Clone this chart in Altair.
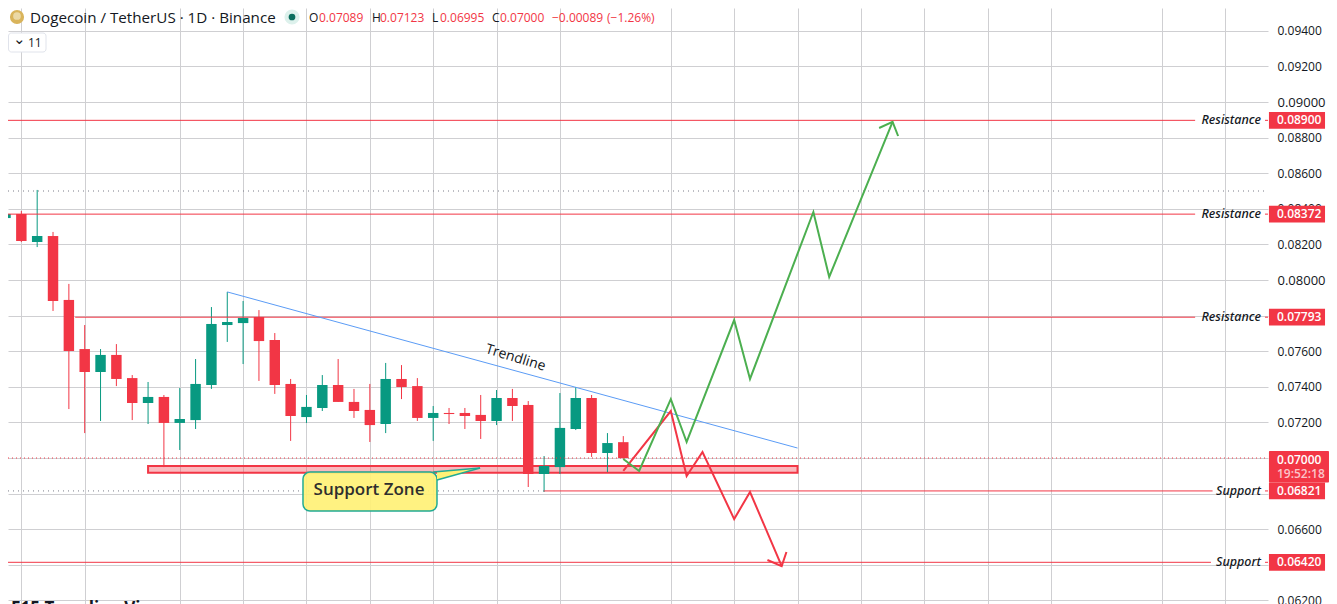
import altair as alt
import pandas as pd

# ---- candles (bar index, open, high, low, close), prices in thousandths
opens  = [83.48,83.71,82.13,82.47,78.88,76.12,74.83,75.79,74.49,73.09,73.43,71.97,72.13,74.10,77.47,77.58,77.92,76.63,74.16,72.30,
          72.81,74.10,73.15,72.70,71.91,74.44,74.04,72.25,72.53,72.53,72.42,72.08,73.37,72.98,69.10,69.49,71.63,73.37,70.28,70.89]
highs  = [84.33,83.88,85.06,82.70,79.78,77.47,76.12,76.40,74.66,74.27,73.54,73.93,75.56,78.48,79.33,78.82,78.31,77.02,74.44,73.54,
          74.66,75.56,73.88,74.16,75.34,75.22,74.49,72.92,72.81,72.81,73.54,73.82,73.88,73.20,70.11,73.65,73.99,73.54,71.40,71.23]
lows   = [82.58,82.13,81.85,78.26,72.75,71.40,72.08,74.04,72.13,71.91,69.49,70.45,71.63,73.88,76.52,75.28,74.33,73.60,70.96,71.97,
          72.64,73.15,72.25,70.90,71.40,73.31,72.08,70.96,71.91,71.63,71.07,71.85,72.08,68.37,68.09,69.10,71.57,70.06,69.21,69.95]
closes = [83.71,82.19,82.47,78.82,76.01,74.83,75.79,74.44,73.09,73.43,71.97,72.19,74.16,77.53,77.64,77.87,76.57,74.10,72.36,72.87,
          74.10,73.15,72.64,71.85,74.44,73.99,72.25,72.53,72.47,72.36,72.08,73.37,72.92,69.10,69.55,71.69,73.37,70.28,70.84,70.00]

price_ticks = [0.062,0.064,0.066,0.068,0.070,0.072,0.074,0.076,0.078,0.080,0.082,0.084,0.086,0.088,0.090,0.092,0.094]
time_grid = [1,5,11,15,19,23,27,31,35,42,46,50,54,58,62,66,73,77]

level_prices = [0.08897,0.08370,0.07791,0.06815,0.06414]
level_labels = ["Resistance","Resistance","Resistance","Support","Support"]
level_starts = [0.158,0.158,4.4,34.0,0.158]
level_ends   = [75.1,75.1,75.1,76.2,76.1]
level_tags   = ["0.08900","0.08372","0.07793","0.06821","0.06420"]

trend_x = [14,50]
trend_p = [0.07933,0.07056]

green_x = [39,40,42,43,46,47,51,52,56]
green_p = [0.06994,0.06927,0.07331,0.07090,0.07775,0.07444,0.08382,0.08017,0.08888]
green_head_x = [55.15,56,56.35]
green_head_p = [0.08854,0.08888,0.08809]

red_x = [39,42,43,44,46,47,49]
red_p = [0.06927,0.07264,0.06899,0.07034,0.06657,0.06809,0.06393]
red_head_x = [48.1,49,49.3]
red_head_p = [0.06427,0.06393,0.06472]

zone_x, zone_x2 = 9, 50
zone_p, zone_p2 = 0.06955, 0.06917

RED = "#F23645"
GREEN = "#089981"
FONT = "Open Sans"
DOM_X = [0.158, 79.70]
DOM_Y = [0.0617978, 0.0952809]

x_scale = alt.Scale(domain=DOM_X, nice=False, zero=False)
y_scale = alt.Scale(domain=DOM_Y, nice=False, zero=False)
x_axis = alt.Axis(values=time_grid, labels=False, ticks=False, domain=False, grid=True,
                  gridColor="#cfcfd2", gridWidth=1, title=None)
big = "datum.value == 0.09 || datum.value == 0.08"
y_axis = alt.Axis(orient="right", values=price_ticks, format=".5f", title=None, ticks=False, domain=False,
                  grid=True, gridColor="#cfcfd2", gridWidth=1, labelPadding=9, labelColor="#131722",
                  labelFont=FONT,
                  labelFontSize=alt.condition(big, alt.value(13), alt.value(12)),
                  labelFontWeight=alt.condition(big, alt.value(500), alt.value(400)))

df = pd.DataFrame({"i": range(len(opens)),
                   "o": [v/1000 for v in opens], "h": [v/1000 for v in highs],
                   "l": [v/1000 for v in lows], "c": [v/1000 for v in closes]})
df["xa"] = df.i - 0.33
df["xb"] = df.i + 0.33
df["col"] = [GREEN if c >= o else RED for o, c in zip(df.o, df.c)]
colr = alt.Color("col:N", scale=None)

PX = alt.X("x:Q", scale=x_scale, axis=x_axis)
PY = alt.Y("y:Q", scale=y_scale, axis=y_axis)

wicks = alt.Chart(df).mark_rule(strokeWidth=1, clip=True).encode(
    x=alt.X("i:Q", scale=x_scale, axis=x_axis),
    y=alt.Y("l:Q", scale=y_scale, axis=y_axis), y2="h:Q", color=colr)
bodies = alt.Chart(df).mark_rect(clip=True).encode(
    x=alt.X("xa:Q", scale=x_scale, axis=x_axis), x2="xb:Q",
    y=alt.Y("o:Q", scale=y_scale, axis=y_axis), y2="c:Q", color=colr)

def hline(p, a, b, color, width=1, dash=None):
    kw = dict(color=color, strokeWidth=width)
    if dash:
        kw["strokeDash"] = dash
    return alt.Chart(pd.DataFrame({"x": [a], "x2": [b], "y": [p]})).mark_rule(**kw).encode(x=PX, x2="x2:Q", y=PY)

def path(xs, ps, color, width, **kw):
    d = pd.DataFrame({"x": xs, "y": ps, "k": range(len(xs))})
    return alt.Chart(d).mark_line(color=color, strokeWidth=width, **kw).encode(x=PX, y=PY, order="k:Q")

def label(text, px, py, **kw):
    kw.setdefault("font", FONT)
    kw.setdefault("align", "left")
    kw.setdefault("baseline", "middle")
    return alt.Chart(pd.DataFrame({"t": [text]})).mark_text(**kw).encode(
        x=alt.value(px-8), y=alt.value(py-8), text="t:N")

def box(x0, x1, p0, p1, **kw):
    d = pd.DataFrame({"x": [x0], "x2": [x1], "y": [p0], "y2": [p1]})
    return alt.Chart(d).mark_rect(**kw).encode(x=PX, x2="x2:Q", y=PY, y2="y2:Q")

# support zone sits under the candles
layers = [box(zone_x, zone_x2, zone_p, zone_p2, fill=RED, fillOpacity=0.35, stroke=RED, strokeWidth=2), wicks, bodies]

# dotted last/high/low markers
layers += [hline(0.0850, DOM_X[0], DOM_X[1], "#787b86", 1, [1,4]),
           hline(0.0700, DOM_X[0], DOM_X[1], RED, 1, [1,3]),
           hline(0.06815, DOM_X[0], 34, "#787b86", 1, [1,4])]

# levels
for p, lab, a, b, tag in zip(level_prices, level_labels, level_starts, level_ends, level_tags):
    layers.append(hline(p, a, b, RED))
    layers.append(hline(p, 79.51, DOM_X[1], RED))

# trendline
layers.append(path(trend_x, trend_p, "#5B9CF6", 1))

# scenario paths
layers += [path(red_x, red_p, RED, 2), path(red_head_x, red_head_p, RED, 2),
           path(green_x, green_p, "#4CAF50", 2), path(green_head_x, green_head_p, "#4CAF50", 2)]

# callout
tri = pd.DataFrame({"x": [27.24, 29.96], "y": [0.06921, 0.06944], "y2": [0.06876, 0.06944]})
layers.append(box(18.78, 27.24, 0.06921, 0.06702, fill="#FFF176", fillOpacity=0.92, stroke="#22AB94", strokeWidth=1.5, cornerRadius=7))
layers.append(alt.Chart(tri).mark_area(color="#FFF176").encode(x=PX, y=PY, y2="y2:Q"))
layers.append(path([27.0, 29.96], [0.06921, 0.06944], "#22AB94", 1.5))
layers.append(path([27.24, 29.96], [0.06876, 0.06944], "#22AB94", 1.5))
layers.append(label("Support Zone", 369, 490, fontSize=17, fontWeight=600, color="#2e2e2e", align="center"))
layers.append(label("Trendline", 515.5, 358, fontSize=14, fontWeight=500, color="#131722", align="center", angle=17))

# level captions and price tags
half = 0.00047
for p, lab, tag in zip(level_prices, level_labels, level_tags):
    py = 1704 - p*17800
    layers.append(label(lab, 1261, py, fontSize=12.5, fontStyle="italic", fontWeight=500, color="#131722", align="right", font="Noto Sans"))
    layers.append(box(79.76, 83.30, p-half, p+half, fill=RED))
    layers.append(label(tag, 1277, py, fontSize=12, fontWeight=600, color="#ffffff"))
layers.append(box(79.76, 83.55, 0.06862, 0.07040, fill=RED, cornerRadius=1))
layers.append(label("0.07000", 1277, 459.5, fontSize=12, fontWeight=600, color="#ffffff"))
layers.append(label("19:52:18", 1277, 474, fontSize=12, fontWeight=600, color="#fbc4c9"))

# legend header
def dot(px, py, size, color):
    return alt.Chart(pd.DataFrame({"t": [0]})).mark_circle(size=size, color=color, opacity=1).encode(
        x=alt.value(px-8), y=alt.value(py-8))

layers += [dot(17, 17, 200, "#D9B45B"), dot(17, 16, 60, "#EBD9A6"),
           label("Dogecoin / TetherUS · 1D · Binance", 30, 17.5, fontSize=15.2, color="#131722"),
           dot(292, 17, 230, "#DDF1EC"), dot(292, 17, 45, "#0B6E5E")]
for head, val, hx, vx in [("O","0.07089",309,319),("H","0.07123",372,380),("L","0.06995",432,440),("C","0.07000",492,500)]:
    layers.append(label(head, hx, 17.5, fontSize=12, color="#131722"))
    layers.append(label(val, vx, 17.5, fontSize=12, color=RED))
layers.append(label("−0.00089", 552, 17.5, fontSize=12, color=RED))
layers.append(label("(−1.26%)", 607, 17.5, fontSize=12, color=RED))

button = alt.Chart(pd.DataFrame({"t": [0]})).mark_rect(fill="#ffffff", stroke="#E0E3EB", cornerRadius=3).encode(
    x=alt.value(0.5), x2=alt.value(38), y=alt.value(25), y2=alt.value(44))
layers += [button, label("⌄", 13, 39, fontSize=15, color="#131722", font="DejaVu Sans"),
           label("11", 28, 43, fontSize=12, color="#131722")]

# clipped caption at the foot of the picture
layers.append(label("E15 Trending Vi", 11, 609, fontSize=17, fontWeight=700, color="#131722"))

chart = alt.layer(*layers).properties(
    width=1260, height=596,
    padding={"left": 0, "top": 0, "right": 61, "bottom": 0},
    autosize=alt.AutoSizeParams(type="none"),
    background="#ffffff",
).configure_view(stroke=None)

chart.save("out.html", embed_options={"renderer": "svg", "actions": False})
